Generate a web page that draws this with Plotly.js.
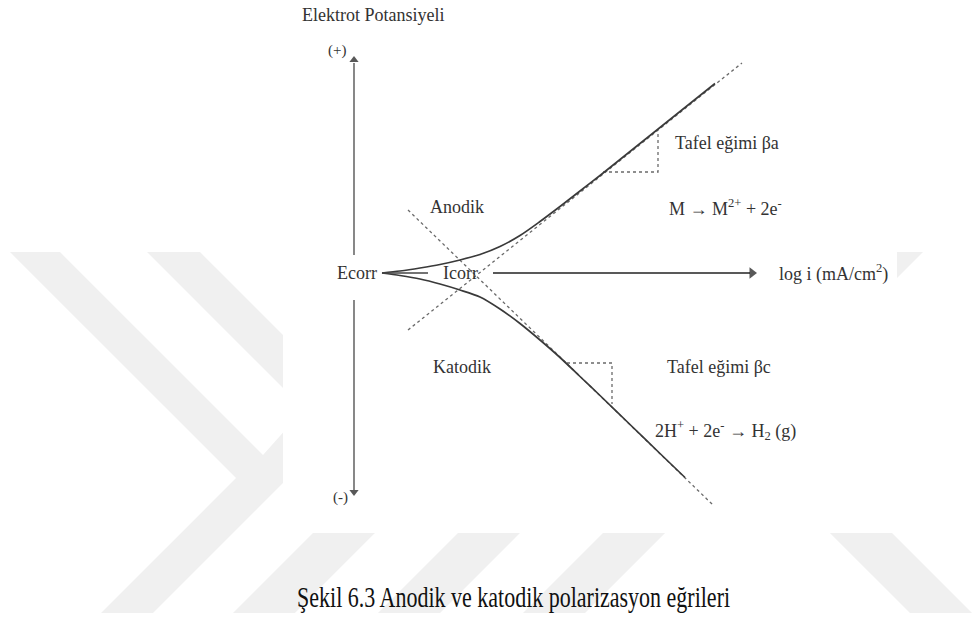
<!DOCTYPE html>
<html>
<head>
<meta charset="utf-8">
<script src="https://cdn.plot.ly/plotly-3.0.1.min.js"></script>
<style>
  html, body { margin: 0; padding: 0; background: #ffffff; }
  #chart { width: 977px; height: 626px; }
  .caption-stretch { transform-box: fill-box; transform-origin: 0% 50%; transform: scaleY(1.3); }
</style>
</head>
<body>
<div id="chart"></div>
<script>
// Schematic polarization diagram: x = log i (arbitrary decades), y = potential relative to Ecorr.

// Anodic branch (measured curve)
const anodicX = [0.56, 0.92, 1.32, 1.72, 2.12, 2.52, 2.92, 3.32, 3.72, 4.12, 4.52, 4.92, 5.52, 6.12, 6.72, 7.22];
const anodicY = [0.00, 0.04, 0.10, 0.17, 0.26, 0.37, 0.53, 0.75, 1.03, 1.33, 1.64, 1.95, 2.43, 2.91, 3.39, 3.79];

// Cathodic branch (measured curve)
const cathodicX = [0.56, 0.92, 1.32, 1.72, 2.12, 2.52, 2.92, 3.32, 3.72, 4.12, 4.52, 4.92, 5.52, 6.12, 6.62];
const cathodicY = [0.00, -0.05, -0.12, -0.22, -0.34, -0.48, -0.72, -1.01, -1.34, -1.69, -2.07, -2.45, -3.03, -3.61, -4.09];

// Tafel extrapolation lines
const tafelAnodicX = [1.08, 7.76];
const tafelAnodicY = [-1.14, 4.20];
const tafelCathodicX = [1.08, 7.18];
const tafelCathodicY = [1.26, -4.64];

// Slope triangles
const slopeAX = [4.98, 6.08, 6.08];
const slopeAY = [2.02, 2.02, 2.82];
const slopeCX = [4.26, 5.16, 5.16];
const slopeCY = [-1.80, -1.80, -2.62];

// Axes (broken around the Ecorr / Icorr labels)
const potAxisUpperY = [0.36, 4.20];
const potAxisLowerY = [-0.54, -4.34];
const potAxisX = 0;
const curAxisLeftX = [0.56, 1.48];
const curAxisRightX = [2.78, 7.92];
const arrowUpY = 4.26, arrowDownY = -4.38, arrowRightX = 7.96;

const lineCol = '#3a3a3a';
const dashCol = '#6a6a6a';

const traces = [];
function line(x, y, opts) {
  traces.push(Object.assign({
    type: 'scatter', mode: 'lines', x: x, y: y, hoverinfo: 'skip',
    line: { color: lineCol, width: 1.6 }
  }, opts || {}));
}

// dashed Tafel lines and slope triangles
line(tafelAnodicX, tafelAnodicY, { line: { color: dashCol, width: 1.3, dash: '3px,3px' } });
line(tafelCathodicX, tafelCathodicY, { line: { color: dashCol, width: 1.3, dash: '3px,3px' } });
line(slopeAX, slopeAY, { line: { color: dashCol, width: 1.3, dash: '3px,3px' } });
line(slopeCX, slopeCY, { line: { color: dashCol, width: 1.3, dash: '3px,3px' } });

// polarization curves
line(anodicX, anodicY, { line: { color: lineCol, width: 1.7, shape: 'spline', smoothing: 0.8 } });
line(cathodicX, cathodicY, { line: { color: lineCol, width: 1.7, shape: 'spline', smoothing: 0.8 } });

// axes
line([potAxisX, potAxisX], potAxisUpperY, { line: { color: '#555', width: 1.4 } });
line([potAxisX, potAxisX], potAxisLowerY, { line: { color: '#555', width: 1.4 } });
line(curAxisLeftX, [0, 0], { line: { color: '#444', width: 1.4 } });
line(curAxisRightX, [0, 0], { line: { color: '#222', width: 1.4 } });

// arrow heads
traces.push({ type: 'scatter', mode: 'markers', hoverinfo: 'skip',
  x: [potAxisX, potAxisX, arrowRightX], y: [arrowUpY, arrowDownY, 0],
  marker: { symbol: ['triangle-up', 'triangle-down', 'triangle-right'], size: [8, 8, 10], color: '#111', line: { width: 0 } } });

// watermark helper (pixel -> paper)
const W = 977, H = 626;
function path(pts) {
  return 'M ' + pts.map(p => (p[0] / W).toFixed(4) + ',' + (1 - p[1] / H).toFixed(4)).join(' L ') + ' Z';
}
const wm = '#f0f0f0';
const shapes = [
  [[10,252],[60,252],[263,455],[304,409],[147,252],[200,252],[357,409],[153,613],[101,613],[236,478]],
  [[313,533],[375,533],[295,613],[233,613]],
  [[458,533],[520,533],[440,613],[378,613]],
  [[603,533],[665,533],[585,613],[523,613]],
  [[830,533],[892,533],[972,613],[910,613]],
  [[897,252],[923,252],[880,295],[870,295]]
].map(p => ({ type: 'path', xref: 'paper', yref: 'paper', path: path(p), fillcolor: wm, line: { width: 0 }, layer: 'below' }));
shapes.push({ type: 'rect', xref: 'paper', yref: 'paper', x0: 283 / W, x1: 897 / W, y0: 1 - 533 / H, y1: 1, fillcolor: '#ffffff', line: { width: 0 }, layer: 'below' });

const serif = 'Liberation Serif';
function label(text, x, y, anchor, size, color) {
  return { text: text, x: x, y: y, xref: 'x', yref: 'y', showarrow: false,
    xanchor: anchor || 'center', yanchor: 'middle',
    font: { family: serif, size: size || 18, color: color || '#333' } };
}
const annotations = [
  label('Elektrot Potansiyeli', -1.08, 5.16, 'left', 18),
  label('(+)', -0.34, 4.46, 'center', 15),
  label('(-)', -0.28, -4.48, 'center', 15),
  label('Ecorr', 0.06, 0, 'center', 18),
  label('Icorr', 2.12, 0, 'center', 18),
  label('Anodik', 2.06, 1.32, 'center', 18),
  label('Katodik', 2.16, -1.88, 'center', 18),
  label('Tafel eğimi βa', 6.38, 2.60, 'left', 18),
  label('M → M<sup>2+</sup> + 2e<sup>-</sup>', 6.26, 1.32, 'left', 18),
  label('log i (mA/cm<sup>2</sup>)', 8.46, 0, 'left', 18),
  label('Tafel eğimi βc', 6.22, -1.88, 'left', 18),
  label('2H<sup>+</sup> + 2e<sup>-</sup> → H<sub>2</sub> (g)', 5.98, -3.14, 'left', 18),
  label('Şekil 6.3 Anodik ve katodik polarizasyon eğrileri', -1.18, -6.48, 'left', 22, '#111')
];

const layout = {
  width: W, height: H,
  margin: { l: 0, r: 0, t: 0, b: 0 },
  paper_bgcolor: '#ffffff', plot_bgcolor: 'rgba(0,0,0,0)',
  showlegend: false,
  xaxis: { range: [-7.08, 12.46], visible: false, fixedrange: true },
  yaxis: { range: [-7.06, 5.46], visible: false, fixedrange: true },
  shapes: shapes,
  annotations: annotations
};

Plotly.newPlot('chart', traces, layout, { displayModeBar: false }).then(gd => {
  // the caption is set in a tall, narrow face
  const cap = gd.querySelector('.annotation[data-index="12"] text');
  if (cap) cap.classList.add('caption-stretch');
});
</script>
</body>
</html>
